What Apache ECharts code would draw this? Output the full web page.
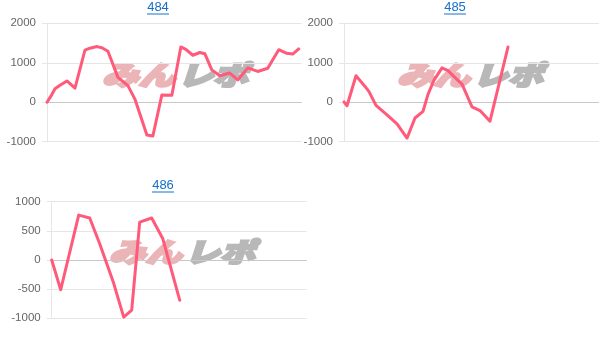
<!DOCTYPE html>
<html><head><meta charset="utf-8">
<script src="https://cdn.jsdelivr.net/npm/echarts@6/dist/echarts.min.js"></script>
<style>html,body{margin:0;padding:0;background:#fff}#c{width:604px;height:347px}</style>
</head><body><div id="c"></div>
<script>
// titles
const titles = ['484', '485', '486'];
// x positions (games) and values for each machine
const x484 = [0,5,8,13,20,28,38,43,50,55,61,71,81,88,100,106,115,125,134,139,146,153,158,165,173,183,191,201,211,221,232,240,246,252];
const y484 = [0,200,340,430,540,355,1320,1370,1410,1380,1290,630,420,80,-830,-855,185,175,1400,1340,1190,1260,1230,820,670,740,565,870,780,860,1330,1240,1220,1350];
const x485 = [0,3,12,21,25,32,43,53,63,71,79,84,90,98,104,110,118,128,136,146,164];
const y485 = [10,-90,670,400,270,-80,-320,-550,-910,-400,-230,200,560,870,800,650,460,-120,-210,-480,1400];
const x486 = [0,9,27,38,48,62,72,80,88,100,111,128];
const y486 = [0,-510,770,720,280,-400,-980,-860,650,720,370,-690];
// y axis ranges
const yMin12 = -1000, yMax12 = 2000, yInt12 = 1000;
const yMin3 = -1000, yMax3 = 1000, yInt3 = 500;
const xMax = 255;

const FONT = '"Liberation Sans", Arial, sans-serif';
const grids = [
  {left: 47, top: 23.3, width: 254.7, height: 118.4},
  {left: 344, top: 23.3, width: 255, height: 118.4},
  {left: 51.7, top: 201.7, width: 255, height: 116.6}
];
const zip = (a, b) => a.map((v, i) => [v, b[i]]);
const seriesData = [zip(x484, y484), zip(x485, y485), zip(x486, y486)];
const yr = [[yMin12, yMax12, yInt12], [yMin12, yMax12, yInt12], [yMin3, yMax3, yInt3]];

const xAxes = grids.map((g, i) => ({
  type: 'value', gridIndex: i, min: 0, max: xMax,
  show: false, splitLine: {show: false}
}));
const yAxes = grids.map((g, i) => ({
  type: 'value', gridIndex: i, min: yr[i][0], max: yr[i][1], interval: yr[i][2],
  axisLine: {show: true, onZero: false, lineStyle: {color: '#e6e6e6', width: 1}},
  axisTick: {show: true, length: 5, lineStyle: {color: '#e6e6e6'}},
  axisLabel: {color: '#666', fontSize: 11.5, fontFamily: FONT, margin: 11, formatter: v => String(v)},
  splitLine: {show: true, lineStyle: {color: '#e6e6e6', width: 1}}
}));
const series = seriesData.map((d, i) => ({
  type: 'line', xAxisIndex: i, yAxisIndex: i, data: d,
  showSymbol: false, symbol: 'none', z: 5,
  lineStyle: {color: '#ff5a7a', width: 3, join: 'round', cap: 'round'},
  markLine: {silent: true, symbol: 'none', label: {show: false},
    lineStyle: {color: '#c8c8c8', width: 1, type: 'solid'}, data: [{yAxis: 0}], z: 1}
}));

const graphic = [];
const titlePos = [[158, 7], [455, 7], [163, 185]];
titles.forEach((t, i) => {
  const [cx, cy] = titlePos[i];
  graphic.push({type: 'text', x: cx, y: cy, z: 10,
    style: {text: t, fill: '#1670c8', font: '13px ' + FONT, textAlign: 'center', textVerticalAlign: 'middle'}});
  graphic.push({type: 'line', z: 10, shape: {x1: cx - 11, y1: cy + 7, x2: cx + 11, y2: cy + 7},
    style: {stroke: '#1670c8', lineWidth: 1}});
});
// watermarks
const wm = [[102, 75], [397, 75], [109, 252]];
wm.forEach(([x, y]) => {
  graphic.push({type: 'text', x: x, y: y, z: 0, scaleX: 1.3, scaleY: 0.95,
    style: {text: 'みん', fill: '#ebb4b6', stroke: '#ebb4b6', lineWidth: 2.5,
      font: 'italic 900 28px "Noto Sans CJK JP", sans-serif', textVerticalAlign: 'middle'}});
  graphic.push({type: 'text', x: x + 76, y: y, z: 0, scaleX: 1.25, scaleY: 0.95,
    style: {text: 'レポ', fill: '#b8b8b8', stroke: '#b8b8b8', lineWidth: 2.5,
      font: 'italic 900 28px "Noto Sans CJK JP", sans-serif', textVerticalAlign: 'middle'}});
});

const chart = echarts.init(document.getElementById('c'), null, {renderer: 'canvas'});
chart.setOption({
  animation: false,
  grid: grids,
  xAxis: xAxes,
  yAxis: yAxes,
  series: series,
  graphic: graphic
});
</script></body></html>
